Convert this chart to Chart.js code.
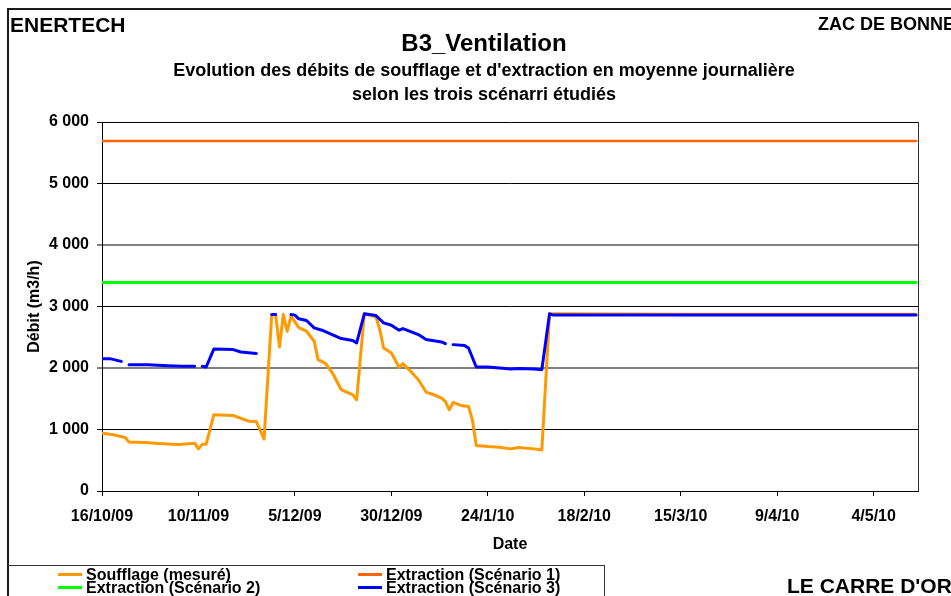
<!DOCTYPE html>
<html>
<head>
<meta charset="utf-8">
<script src="https://cdn.jsdelivr.net/npm/chart.js@4.4.1/dist/chart.umd.min.js"></script>
<style>
  html, body { margin: 0; padding: 0; background: #fff; overflow: hidden; }
  #wrap { position: relative; width: 951px; height: 596px; overflow: hidden;
          font-family: "Liberation Sans", Arial, sans-serif; font-weight: bold; color: #000; }
  #c { position: absolute; left: 0; top: 0; }
  .t { position: absolute; white-space: nowrap; line-height: 1; }
  #frame { position: absolute; left: 7px; top: 8px; width: 1200px; height: 1200px;
           border-left: 2px solid #1a1a1a; border-top: 2px solid #1a1a1a; }
  #legendBox { position: absolute; left: 7px; top: 565px; width: 597px; height: 60px;
               border-top: 1px solid #333; border-right: 1px solid #333; }
  .lg-line { position: absolute; width: 24px; height: 3px; }
  .lg-text { position: absolute; white-space: nowrap; line-height: 1; font-size: 16px; }
</style>
</head>
<body>
<div id="wrap">
  <canvas id="c" width="951" height="596"></canvas>
  <div id="frame"></div>
  <div class="t" style="left:10px; top:14px; font-size:21px;">ENERTECH</div>
  <div class="t" style="left:818px; top:15px; font-size:18px;">ZAC DE BONNE</div>
  <div class="t" style="left:0; width:968px; text-align:center; top:31px; font-size:24px;">B3_Ventilation</div>
  <div class="t" style="left:0; width:968px; text-align:center; top:61px; font-size:18px;">Evolution des débits de soufflage et d'extraction en moyenne journalière</div>
  <div class="t" style="left:0; width:968px; text-align:center; top:85px; font-size:18px;">selon les trois scénarri étudiés</div>
  <div id="legendBox"></div>
  <div id="legend"></div>
  <div class="t" style="left:787px; top:575px; font-size:21px;">LE CARRE D'OR</div>
</div>
<script>
// ---------- DATA ----------
// x positions are days elapsed since 16/10/09 (daily averages)
const xTickLabels = ['16/10/09', '10/11/09', '5/12/09', '30/12/09', '24/1/10', '18/2/10', '15/3/10', '9/4/10', '4/5/10'];
const xTickDays   = [0, 25, 50, 75, 100, 125, 150, 175, 200];
const yTickValues = [0, 1000, 2000, 3000, 4000, 5000, 6000];

const seriesNames = ['Soufflage (mesuré)', 'Extraction (Scénario 1)', 'Extraction (Scénario 2)', 'Extraction (Scénario 3)'];

const soufflageDays   = [0, 3, 6, 7, 11, 14, 18, 20, 24, 25, 26, 27, 29, 34, 38, 40, 42, 44, 45, 46, 47, 48, 49, 51, 53, 55, 56, 58, 60, 62, 64, 65, 66, 68, 71, 72, 73, 75, 77, 78, 80, 82, 84, 86, 88, 89, 90, 91, 93, 95, 96, 97, 100, 103, 106, 108, 112, 114, 116, 150, 211];
const soufflageValues = [940, 913, 870, 795, 788, 778, 761, 755, 777, 685, 761, 761, 1240, 1228, 1135, 1130, 843, 2870, 2870, 2343, 2870, 2598, 2842, 2658, 2598, 2435, 2136, 2071, 1891, 1647, 1593, 1565, 1484, 2881, 2832, 2625, 2326, 2245, 2011, 2071, 1946, 1810, 1609, 1565, 1511, 1457, 1321, 1440, 1391, 1375, 1158, 739, 722, 712, 685, 706, 685, 668, 2881, 2872, 2872];

const scen1Days   = [0, 211];
const scen1Values = [5690, 5690];

const scen2Days   = [0, 211];
const scen2Values = [3390, 3390];

const scen3Days   = [0, 2, 5, 6, 7, 12, 17, 21, 24, 25, 26, 27, 29, 34, 36, 40, 42, 44, 45, 47, 49, 50, 51, 53, 55, 57, 62, 65, 66, 68, 71, 73, 75, 77, 78, 82, 84, 88, 89, 90, 91, 94, 95, 97, 100, 103, 106, 108, 112, 114, 116, 117, 211];
const scen3Values = [2152, 2152, 2108, null, 2054, 2054, 2038, 2027, 2027, null, 2027, 2016, 2310, 2299, 2261, 2234, null, 2870, 2870, null, 2870, 2860, 2800, 2772, 2653, 2614, 2478, 2446, 2408, 2881, 2853, 2734, 2695, 2614, 2641, 2544, 2462, 2424, 2397, null, 2380, 2364, 2326, 2016, 2016, 2000, 1984, 1990, 1984, 1973, 2881, 2860, 2860];

// ---------- CHART ----------
const FONT = '"Liberation Sans", Arial, sans-serif';
const toPts = (days, vals) => days.map((d, i) => ({ x: d, y: vals[i] }));
const fmtThousands = v => String(v).replace(/\B(?=(\d{3})+(?!\d))/g, ' ');

const plotFrame = {
  id: 'plotFrame',
  beforeDatasetsDraw(chart) {
    const { ctx, chartArea: a } = chart;
    ctx.save();
    ctx.strokeStyle = '#333';
    ctx.lineWidth = 1;
    ctx.beginPath();
    ctx.moveTo(Math.round(a.right) + 0.5, a.top);
    ctx.lineTo(Math.round(a.right) + 0.5, a.bottom);
    ctx.stroke();
    ctx.restore();
  }
};

const chart = new Chart(document.getElementById('c'), {
  type: 'line',
  data: {
    datasets: [
      { label: seriesNames[0], data: toPts(soufflageDays, soufflageValues), borderColor: '#FF9900', backgroundColor: '#FF9900', borderWidth: 3, order: 4 },
      { label: seriesNames[1], data: toPts(scen1Days, scen1Values), borderColor: '#FF6600', backgroundColor: '#FF6600', borderWidth: 2.5, order: 3 },
      { label: seriesNames[2], data: toPts(scen2Days, scen2Values), borderColor: '#00FF00', backgroundColor: '#00FF00', borderWidth: 3, order: 2 },
      { label: seriesNames[3], data: toPts(scen3Days, scen3Values), borderColor: '#0000FF', backgroundColor: '#0000FF', borderWidth: 3, order: 1 }
    ]
  },
  options: {
    responsive: false,
    animation: false,
    devicePixelRatio: 1,
    spanGaps: false,
    layout: { padding: { left: 0, top: 122, right: 33, bottom: 35 } },
    elements: {
      point: { radius: 0, hoverRadius: 0 },
      line: { tension: 0, borderCapStyle: 'round', borderJoinStyle: 'round', fill: false }
    },
    plugins: { legend: { display: false }, tooltip: { enabled: false }, title: { display: false } },
    scales: {
      x: {
        type: 'linear', min: 0, max: 211.5,
        afterBuildTicks: s => { s.ticks = xTickDays.map(v => ({ value: v })); },
        afterFit: s => { s.height = 70; },
        ticks: {
          autoSkip: false, maxRotation: 0, minRotation: 0, padding: 11, color: '#000',
          font: { family: FONT, size: 16, weight: 'bold' },
          callback: v => xTickLabels[xTickDays.indexOf(v)]
        },
        grid: { drawOnChartArea: false, drawTicks: true, tickLength: 5, color: '#000', lineWidth: 1 },
        border: { display: true, color: '#000', width: 1 },
        title: { display: true, text: 'Date', color: '#000', font: { family: FONT, size: 16, weight: 'bold' }, padding: { top: 0, bottom: 7 } }
      },
      y: {
        min: 0, max: 6000,
        afterBuildTicks: s => { s.ticks = yTickValues.map(v => ({ value: v })); },
        afterFit: s => { s.width = 102; },
        ticks: {
          padding: 8, color: '#000',
          font: { family: FONT, size: 16, weight: 'bold' },
          callback: v => fmtThousands(v)
        },
        grid: {
          drawTicks: true, tickLength: 5,
          color: c => (c.tick && (c.tick.value === 2000 || c.tick.value === 4000)) ? '#808080' : '#000',
          lineWidth: c => (c.tick && (c.tick.value === 2000 || c.tick.value === 4000)) ? 2 : 1
        },
        border: { display: true, color: '#000', width: 1 },
        title: { display: true, text: 'Débit (m3/h)', color: '#000', font: { family: FONT, size: 16, weight: 'bold' }, padding: { top: 25, bottom: 0 } }
      }
    }
  },
  plugins: [plotFrame]
});

// ---------- LEGEND (HTML, built from the chart datasets) ----------
const legendSlots = [
  { lineX: 58,  textX: 86,  y: 567 },
  { lineX: 358, textX: 386, y: 567 },
  { lineX: 58,  textX: 86,  y: 580 },
  { lineX: 358, textX: 386, y: 580 }
];
const legendEl = document.getElementById('legend');
chart.data.datasets.forEach((ds, i) => {
  const s = legendSlots[i];
  const line = document.createElement('div');
  line.className = 'lg-line';
  line.style.left = s.lineX + 'px';
  line.style.top = (s.y + 6) + 'px';
  line.style.background = ds.borderColor;
  const txt = document.createElement('div');
  txt.className = 'lg-text';
  txt.style.left = s.textX + 'px';
  txt.style.top = s.y + 'px';
  txt.textContent = ds.label;
  legendEl.appendChild(line);
  legendEl.appendChild(txt);
});
</script>
</body>
</html>
